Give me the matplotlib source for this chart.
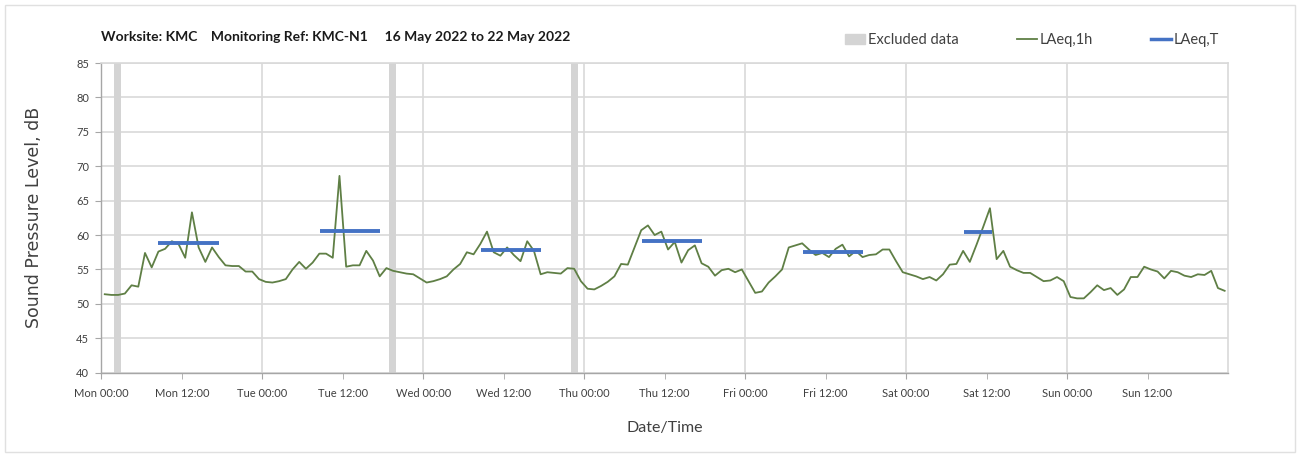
import matplotlib.pyplot as plt
import matplotlib.patches as mpatches
from matplotlib.lines import Line2D
import numpy as np

# hourly LAeq,1h values (dB), Mon 00:00 onwards
laeq_1h = [
    51.4, 51.3, 51.3, 51.5, 52.7, 52.5, 57.4, 55.3, 57.6, 58.0, 59.1, 58.7,
    56.7, 63.3, 58.2, 56.1, 58.2, 56.8, 55.6, 55.5, 55.5, 54.7, 54.7, 53.6,
    53.2, 53.1, 53.3, 53.6, 55.0, 56.1, 55.1, 56.0, 57.3, 57.3, 56.7, 68.6,
    55.4, 55.6, 55.6, 57.7, 56.3, 54.0, 55.2, 54.8, 54.6, 54.4, 54.3, 53.7,
    53.1, 53.3, 53.6, 54.0, 55.0, 55.8, 57.5, 57.2, 58.7, 60.5, 57.5, 57.0,
    58.2, 57.1, 56.2, 59.1, 57.7, 54.3, 54.6, 54.5, 54.4, 55.2, 55.1, 53.3,
    52.2, 52.1, 52.6, 53.2, 54.0, 55.8, 55.7, 58.2, 60.7, 61.4, 60.0, 60.5,
    57.9, 59.0, 56.0, 57.8, 58.5, 55.9, 55.4, 54.1, 54.9, 55.1, 54.6, 55.0,
    53.3, 51.6, 51.8, 53.1, 54.0, 55.0, 58.2, 58.5, 58.8, 57.9, 57.1, 57.4,
    56.8, 58.0, 58.6, 56.9, 57.7, 56.8, 57.1, 57.2, 57.9, 57.9, 56.2, 54.6,
    54.3, 54.0, 53.6, 53.9, 53.4, 54.3, 55.7, 55.8, 57.7, 56.1, 58.6, 61.2,
    63.9, 56.5, 57.7, 55.4, 54.9, 54.5, 54.5, 53.9, 53.3, 53.4, 53.9, 53.3,
    51.0, 50.8, 50.8, 51.7, 52.7, 52.0, 52.3, 51.3, 52.1, 53.9, 53.9, 55.4,
    55.0, 54.7, 53.7, 54.8, 54.6, 54.1, 53.9, 54.3, 54.2, 54.8, 52.3, 51.9,
]

# LAeq,T daytime periods (hours from Mon 00:00) and levels
laeq_t_start = [8.5, 32.6, 56.6, 80.6, 104.6, 128.6]
laeq_t_end = [17.6, 41.6, 65.6, 89.6, 113.6, 132.8]
laeq_t_value = [58.8, 60.6, 57.8, 59.1, 57.6, 60.5]

# excluded data periods (hours)
excl_start = [1.9, 42.9, 70.1]
excl_end = [2.9, 43.9, 71.1]

days = ['Mon', 'Tue', 'Wed', 'Thu', 'Fri', 'Sat', 'Sun']

green = '#5f7f45'
blue = '#4472c4'
grey_band = '#d4d4d4'
grid_col = '#d9d9d9'
text_col = '#404040'

plt.rcParams['font.family'] = ['Lato', 'DejaVu Sans']

fig = plt.figure(figsize=(13.01, 4.57), dpi=100)
W, H = 1301, 457
ax = fig.add_axes([101.4 / W, 1 - 372.7 / H, (1228 - 101.4) / W, (372.7 - 63) / H])

# outer frame
fig.add_artist(mpatches.Rectangle((5 / W, 5 / H), 1290 / W, 447 / H, transform=fig.transFigure,
                                  fill=False, edgecolor='#e0e0e0', lw=1))

for s, e in zip(excl_start, excl_end):
    ax.axvspan(s, e, color=grey_band, lw=0, zorder=1)

hours = np.arange(len(laeq_1h)) + 0.5
ax.plot(hours, laeq_1h, color=green, lw=1.3, zorder=3)

for s, e, v in zip(laeq_t_start, laeq_t_end, laeq_t_value):
    ax.plot([s, e], [v, v], color=blue, lw=2.8, solid_capstyle='butt', zorder=4)

ax.set_xlim(0, 168)
ax.set_ylim(40, 85)
ax.set_yticks(np.arange(40, 86, 5))
ax.set_xticks(np.arange(0, 168, 24))
ax.set_xticks(np.arange(12, 168, 24), minor=True)
ax.set_xticklabels([d + ' 00:00' for d in days])
ax.set_xticklabels([d + ' 12:00' for d in days], minor=True)

ax.grid(axis='y', color=grid_col, lw=1.2, zorder=0)
ax.grid(axis='x', which='major', color=grid_col, lw=1.2, zorder=0)
ax.set_axisbelow(True)

for side in ['top', 'right']:
    ax.spines[side].set_color(grid_col)
    ax.spines[side].set_linewidth(1.2)
for side in ['left', 'bottom']:
    ax.spines[side].set_color('#a6a6a6')
    ax.spines[side].set_linewidth(1.0)

ax.tick_params(axis='both', which='both', direction='out', length=4, color='#a6a6a6',
               labelsize=8, labelcolor=text_col)
ax.tick_params(axis='x', which='both', pad=7)
ax.tick_params(axis='y', pad=5)

ax.set_xlabel('Date/Time', fontsize=11.5, color=text_col, labelpad=16)
ax.set_ylabel('Sound Pressure Level, dB', fontsize=12.5, color=text_col, labelpad=24,
              family=['DejaVu Sans'])

fig.text(101 / W, 1 - 37 / H, 'Worksite: KMC    Monitoring Ref: KMC-N1     16 May 2022 to 22 May 2022',
         fontsize=10, fontweight='bold', color='#1a1a1a', va='center', ha='left')

handles = [mpatches.Patch(color=grey_band, label='Excluded data'),
           Line2D([], [], color=green, lw=1.3, label='LAeq,1h'),
           Line2D([], [], color=blue, lw=2.5, label='LAeq,T')]
fig.legend(handles=handles, loc='center right', bbox_to_anchor=(1232 / W, 1 - 40 / H), ncol=3,
           frameon=False, fontsize=10.5, handlelength=1.4, handletextpad=0.15, columnspacing=4.0,
           labelcolor=text_col)

fig.savefig('out.png', dpi=100)
